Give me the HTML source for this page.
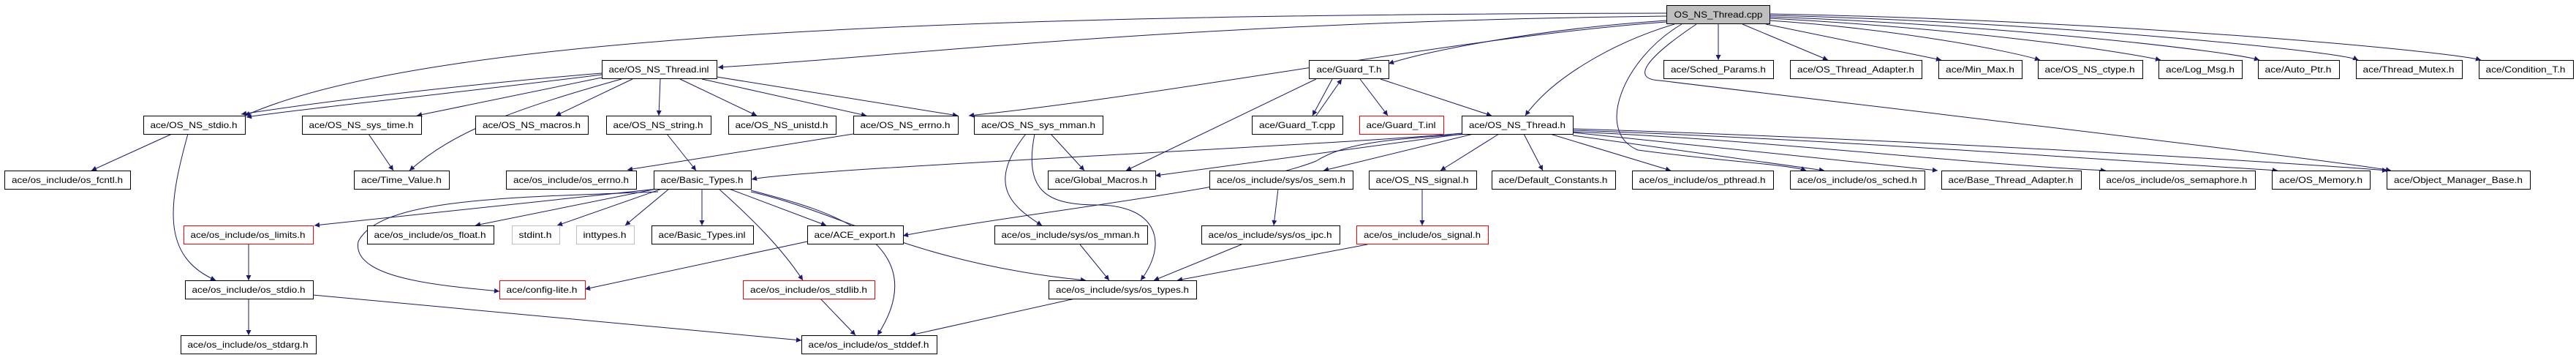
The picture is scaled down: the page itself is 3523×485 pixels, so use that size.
<!DOCTYPE html>
<html><head><meta charset="utf-8"><style>
html,body{margin:0;padding:0;background:#fff;}
svg{display:block;}
text{font-family:"Liberation Sans",sans-serif;font-size:12px;fill:#000;}
</style></head><body>
<svg width="3523" height="485" viewBox="0 0 3523 485" xmlns="http://www.w3.org/2000/svg">
<defs><marker id="a" viewBox="0 0 10 10" refX="10" refY="5" markerWidth="10" markerHeight="7" markerUnits="userSpaceOnUse" orient="auto"><path d="M0,0 L10,5 L0,10 z" fill="#191970"/></marker></defs>
<g fill="none" stroke="#191970" stroke-width="1" marker-end="url(#a)">
<path d="M2279,22 C1600,30 1200,80 982,92"/>
<path d="M2279,18 C1400,20 600,40 335,158"/>
<path d="M2279,28 C2100,40 1950,70 1899,87"/>
<path d="M2279,30 C2000,50 1600,130 1325,158"/>
<path d="M2290,33 C2200,60 2120,110 2086,158"/>
<path d="M2350,33 L2350,82"/>
<path d="M2383,33 L2500,82"/>
<path d="M2415,33 L2655,82"/>
<path d="M2420,28 C2600,40 2750,70 2790,82"/>
<path d="M2420,25 C2700,40 2900,70 2955,82"/>
<path d="M2420,23 C2750,35 3050,70 3090,82"/>
<path d="M2420,21 C2800,30 3200,70 3225,82"/>
<path d="M2420,19 C2900,28 3350,70 3393,82"/>
<path d="M2320,33 C2250,80 2230,108 2270,110 C2600,150 3200,220 3270,233"/>
<path d="M2300,33 C2220,80 2180,180 2240,205 C2350,220 2450,225 2470,233"/>
<path d="M823,102 C600,130 400,150 337,160"/>
<path d="M823,100 C700,110 500,130 330,156"/>
<path d="M823,106 L570,158"/>
<path d="M865,108 L760,158"/>
<path d="M903,108 L901,158"/>
<path d="M930,108 L1035,158"/>
<path d="M960,108 L1185,158"/>
<path d="M980,105 L1310,158"/>
<path d="M850,108 C700,150 620,180 560,233"/>
<path d="M235,183 L125,233"/>
<path d="M257,183 C230,280 220,350 295,383"/>
<path d="M504,183 L538,233"/>
<path d="M912,183 L952,233"/>
<path d="M1167,183 L858,232"/>
<path d="M900,258 L430,308"/>
<path d="M898,258 L650,308"/>
<path d="M905,258 L762,308"/>
<path d="M915,258 L855,308"/>
<path d="M960,258 L960,308"/>
<path d="M997,258 L1130,308"/>
<path d="M983,258 C1030,300 1070,340 1098,383"/>
<path d="M1027,260 C1100,280 1290,320 1200,458"/>
<path d="M1027,262 C1150,290 1250,360 1485,383"/>
<path d="M900,262 C700,270 520,270 490,330 C480,380 600,390 683,398"/>
<path d="M1104,330 L800,395"/>
<path d="M340,334 L340,383"/>
<path d="M340,408 L340,458"/>
<path d="M428,403 L1096,465"/>
<path d="M1122,408 L1170,458"/>
<path d="M1470,408 L1245,458"/>
<path d="M1403,183 C1350,250 1380,280 1425,308"/>
<path d="M1437,183 L1483,233"/>
<path d="M1415,183 C1400,260 1430,280 1500,280 C1580,280 1600,330 1560,383"/>
<path d="M1477,334 L1517,383"/>
<path d="M1698,334 L1578,383"/>
<path d="M1870,334 L1610,383"/>
<path d="M1748,258 L1742,308"/>
<path d="M1945,258 L1945,308"/>
<path d="M1822,108 L1795,158"/>
<path d="M1800,158 L1835,108"/>
<path d="M1860,108 L1898,158"/>
<path d="M1888,108 L2040,158"/>
<path d="M1800,108 L1540,233"/>
<path d="M2000,182 C1800,200 1100,230 1028,245"/>
<path d="M2000,183 L1580,240"/>
<path d="M2010,183 C1900,190 1840,195 1800,220 C1700,260 1400,290 1235,322"/>
<path d="M2015,183 L1810,233"/>
<path d="M2050,183 L1970,233"/>
<path d="M2084,183 L2110,233"/>
<path d="M2120,183 L2285,233"/>
<path d="M2151,185 L2495,233"/>
<path d="M2151,181 L2650,233"/>
<path d="M2151,180 C2400,190 2700,225 2880,233"/>
<path d="M2151,178 C2500,190 2900,220 3115,233"/>
<path d="M2151,176 C2600,190 3100,220 3265,233"/>
</g>
<g stroke-width="1">
<!-- nodes -->
<rect x="2279.5" y="7.5" width="141" height="25" fill="#bfbfbf" stroke="#000"/><text x="2350" y="24" text-anchor="middle" textLength="121" lengthAdjust="spacingAndGlyphs">OS_NS_Thread.cpp</text>
</g>
<g fill="#fff" stroke="#000">
<rect x="823.5" y="82.5" width="157" height="25"/>
<rect x="1790.5" y="82.5" width="109" height="25"/>
<rect x="2275.5" y="82.5" width="150" height="25"/>
<rect x="2448.5" y="82.5" width="180" height="25"/>
<rect x="2651.5" y="82.5" width="114" height="25"/>
<rect x="2787.5" y="82.5" width="143" height="25"/>
<rect x="2952.5" y="82.5" width="114" height="25"/>
<rect x="3088.5" y="82.5" width="111" height="25"/>
<rect x="3222.5" y="82.5" width="145" height="25"/>
<rect x="3390.5" y="82.5" width="129" height="25"/>
<rect x="196.5" y="158.5" width="139" height="25"/>
<rect x="413.5" y="158.5" width="163" height="25"/>
<rect x="650.5" y="158.5" width="154" height="25"/>
<rect x="829.5" y="158.5" width="143" height="25"/>
<rect x="996.5" y="158.5" width="147" height="25"/>
<rect x="1167.5" y="158.5" width="143" height="25"/>
<rect x="1332.5" y="158.5" width="176" height="25"/>
<rect x="1712.5" y="158.5" width="124" height="25"/>
<rect x="1859.5" y="158.5" width="115" height="25" stroke="#f00"/>
<rect x="1999.5" y="158.5" width="152" height="25"/>
<rect x="6.5" y="233.5" width="172" height="25"/>
<rect x="484.5" y="233.5" width="130" height="25"/>
<rect x="692.5" y="233.5" width="178" height="25"/>
<rect x="894.5" y="233.5" width="133" height="25"/>
<rect x="1433.5" y="233.5" width="147" height="25"/>
<rect x="1654.5" y="233.5" width="196" height="25"/>
<rect x="1872.5" y="233.5" width="147" height="25"/>
<rect x="2040.5" y="233.5" width="169" height="25"/>
<rect x="2232.5" y="233.5" width="193" height="25"/>
<rect x="2448.5" y="233.5" width="184" height="25"/>
<rect x="2655.5" y="233.5" width="191" height="25"/>
<rect x="2871.5" y="233.5" width="213" height="25"/>
<rect x="3107.5" y="233.5" width="134" height="25"/>
<rect x="3264.5" y="233.5" width="196" height="25"/>
<rect x="251.5" y="308.5" width="177" height="25" stroke="#f00"/>
<rect x="502.5" y="308.5" width="173" height="25"/>
<rect x="700.5" y="308.5" width="65" height="25" stroke="#bfbfbf"/>
<rect x="788.5" y="308.5" width="79" height="25" stroke="#bfbfbf"/>
<rect x="891.5" y="308.5" width="139" height="25"/>
<rect x="1104.5" y="308.5" width="131" height="25"/>
<rect x="1360.5" y="308.5" width="209" height="25"/>
<rect x="1643.5" y="308.5" width="189" height="25"/>
<rect x="1855.5" y="308.5" width="180" height="25" stroke="#f00"/>
<rect x="253.5" y="383.5" width="175" height="25"/>
<rect x="683.5" y="383.5" width="117" height="25" stroke="#f00"/>
<rect x="1016.5" y="383.5" width="180" height="25" stroke="#f00"/>
<rect x="1434.5" y="383.5" width="202" height="25"/>
<rect x="247.5" y="458.5" width="185" height="25"/>
<rect x="1096.5" y="458.5" width="185" height="25"/>
</g>
<g text-anchor="middle" lengthAdjust="spacingAndGlyphs">
<text x="901" y="99" textLength="137" lengthAdjust="spacingAndGlyphs">ace/OS_NS_Thread.inl</text>
<text x="1845" y="99" textLength="89" lengthAdjust="spacingAndGlyphs">ace/Guard_T.h</text>
<text x="2350" y="99" textLength="130" lengthAdjust="spacingAndGlyphs">ace/Sched_Params.h</text>
<text x="2538" y="99" textLength="160" lengthAdjust="spacingAndGlyphs">ace/OS_Thread_Adapter.h</text>
<text x="2708" y="99" textLength="94" lengthAdjust="spacingAndGlyphs">ace/Min_Max.h</text>
<text x="2858" y="99" textLength="123" lengthAdjust="spacingAndGlyphs">ace/OS_NS_ctype.h</text>
<text x="3009" y="99" textLength="94" lengthAdjust="spacingAndGlyphs">ace/Log_Msg.h</text>
<text x="3143" y="99" textLength="91" lengthAdjust="spacingAndGlyphs">ace/Auto_Ptr.h</text>
<text x="3294" y="99" textLength="125" lengthAdjust="spacingAndGlyphs">ace/Thread_Mutex.h</text>
<text x="3454" y="99" textLength="109" lengthAdjust="spacingAndGlyphs">ace/Condition_T.h</text>
<text x="265" y="175" textLength="119" lengthAdjust="spacingAndGlyphs">ace/OS_NS_stdio.h</text>
<text x="494" y="175" textLength="143" lengthAdjust="spacingAndGlyphs">ace/OS_NS_sys_time.h</text>
<text x="727" y="175" textLength="134" lengthAdjust="spacingAndGlyphs">ace/OS_NS_macros.h</text>
<text x="900" y="175" textLength="123" lengthAdjust="spacingAndGlyphs">ace/OS_NS_string.h</text>
<text x="1069" y="175" textLength="127" lengthAdjust="spacingAndGlyphs">ace/OS_NS_unistd.h</text>
<text x="1238" y="175" textLength="123" lengthAdjust="spacingAndGlyphs">ace/OS_NS_errno.h</text>
<text x="1420" y="175" textLength="156" lengthAdjust="spacingAndGlyphs">ace/OS_NS_sys_mman.h</text>
<text x="1774" y="175" textLength="104" lengthAdjust="spacingAndGlyphs">ace/Guard_T.cpp</text>
<text x="1916" y="175" textLength="95" lengthAdjust="spacingAndGlyphs">ace/Guard_T.inl</text>
<text x="2075" y="175" textLength="132" lengthAdjust="spacingAndGlyphs">ace/OS_NS_Thread.h</text>
<text x="92" y="250" textLength="152" lengthAdjust="spacingAndGlyphs">ace/os_include/os_fcntl.h</text>
<text x="549" y="250" textLength="110" lengthAdjust="spacingAndGlyphs">ace/Time_Value.h</text>
<text x="781" y="250" textLength="158" lengthAdjust="spacingAndGlyphs">ace/os_include/os_errno.h</text>
<text x="960" y="250" textLength="113" lengthAdjust="spacingAndGlyphs">ace/Basic_Types.h</text>
<text x="1506" y="250" textLength="127" lengthAdjust="spacingAndGlyphs">ace/Global_Macros.h</text>
<text x="1752" y="250" textLength="176" lengthAdjust="spacingAndGlyphs">ace/os_include/sys/os_sem.h</text>
<text x="1945" y="250" textLength="127" lengthAdjust="spacingAndGlyphs">ace/OS_NS_signal.h</text>
<text x="2124" y="250" textLength="149" lengthAdjust="spacingAndGlyphs">ace/Default_Constants.h</text>
<text x="2328" y="250" textLength="173" lengthAdjust="spacingAndGlyphs">ace/os_include/os_pthread.h</text>
<text x="2540" y="250" textLength="164" lengthAdjust="spacingAndGlyphs">ace/os_include/os_sched.h</text>
<text x="2750" y="250" textLength="171" lengthAdjust="spacingAndGlyphs">ace/Base_Thread_Adapter.h</text>
<text x="2977" y="250" textLength="193" lengthAdjust="spacingAndGlyphs">ace/os_include/os_semaphore.h</text>
<text x="3174" y="250" textLength="114" lengthAdjust="spacingAndGlyphs">ace/OS_Memory.h</text>
<text x="3362" y="250" textLength="176" lengthAdjust="spacingAndGlyphs">ace/Object_Manager_Base.h</text>
<text x="339" y="325" textLength="157" lengthAdjust="spacingAndGlyphs">ace/os_include/os_limits.h</text>
<text x="588" y="325" textLength="153" lengthAdjust="spacingAndGlyphs">ace/os_include/os_float.h</text>
<text x="732" y="325" textLength="45" lengthAdjust="spacingAndGlyphs">stdint.h</text>
<text x="827" y="325" textLength="59" lengthAdjust="spacingAndGlyphs">inttypes.h</text>
<text x="960" y="325" textLength="119" lengthAdjust="spacingAndGlyphs">ace/Basic_Types.inl</text>
<text x="1169" y="325" textLength="111" lengthAdjust="spacingAndGlyphs">ace/ACE_export.h</text>
<text x="1464" y="325" textLength="189" lengthAdjust="spacingAndGlyphs">ace/os_include/sys/os_mman.h</text>
<text x="1737" y="325" textLength="169" lengthAdjust="spacingAndGlyphs">ace/os_include/sys/os_ipc.h</text>
<text x="1945" y="325" textLength="160" lengthAdjust="spacingAndGlyphs">ace/os_include/os_signal.h</text>
<text x="340" y="400" textLength="155" lengthAdjust="spacingAndGlyphs">ace/os_include/os_stdio.h</text>
<text x="741" y="400" textLength="97" lengthAdjust="spacingAndGlyphs">ace/config-lite.h</text>
<text x="1106" y="400" textLength="160" lengthAdjust="spacingAndGlyphs">ace/os_include/os_stdlib.h</text>
<text x="1535" y="400" textLength="182" lengthAdjust="spacingAndGlyphs">ace/os_include/sys/os_types.h</text>
<text x="339" y="475" textLength="165" lengthAdjust="spacingAndGlyphs">ace/os_include/os_stdarg.h</text>
<text x="1188" y="475" textLength="165" lengthAdjust="spacingAndGlyphs">ace/os_include/os_stddef.h</text>
</g>
</svg>
</body></html>
